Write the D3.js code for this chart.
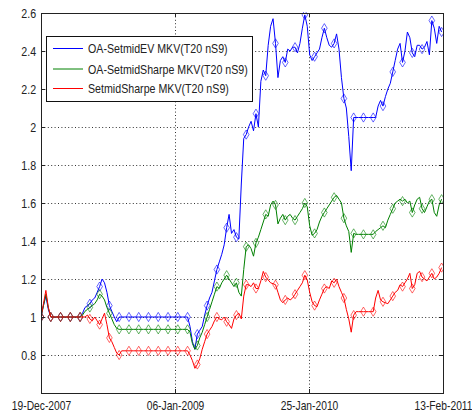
<!DOCTYPE html>
<html>
<head>
<meta charset="utf-8">
<script src="https://cdn.jsdelivr.net/npm/d3@7"></script>
<style>
body { margin: 0; background: #fff; }
text { font-family: "Liberation Sans", Arial, sans-serif; fill: #222; }
</style>
</head>
<body>
<div id="app"></div>
<script>
// data, one value per week from 19-Dec-2007
const startDay = "2007-12-19";
const endDay = "2011-02-13";
const xTickDays = ["2007-12-19", "2009-01-06", "2010-01-25", "2011-02-13"];
const xTickLabels = ["19-Dec-2007", "06-Jan-2009", "25-Jan-2010", "13-Feb-2011"];
const yTicks = [0.8, 1, 1.2, 1.4, 1.6, 1.8, 2, 2.2, 2.4, 2.6];
const seriesNames = ["OA-SetmidEV MKV(T20 nS9)", "OA-SetmidSharpe MKV(T20 nS9)", "SetmidSharpe MKV(T20 nS9)"];
const seriesColors = ["#0000ff", "#008000", "#ff0000"];

const evVals = [1.00,1.06,1.11,1.04,1.00,
  1.00,1.00,1.00,1.00,1.00,1.00,1.00,1.00,1.00,1.00,1.00,1.00,
  1.02,1.05,1.06,1.07,1.09,1.10,1.13,1.16,1.20,1.18,1.13,1.06,1.03,1.00,0.975,1.00,
  1.00,1.00,1.00,1.00,1.00,1.00,1.00,1.00,1.00,1.00,1.00,1.00,1.00,1.00,1.00,1.00,1.00,1.00,1.00,1.00,1.00,1.00,1.00,1.00,1.00,1.00,1.00,1.00,
  0.95,0.87,0.83,0.91,0.93,0.95,1.01,1.06,1.10,1.13,1.19,1.25,1.29,1.33,1.38,1.47,1.54,1.44,1.46,1.42,1.41,
  1.70,1.94,1.96,2.00,2.03,1.98,2.07,2.00,2.24,2.30,2.27,2.43,2.53,2.57,2.44,2.26,2.35,2.37,2.34,
  2.41,2.40,2.42,2.42,2.39,2.44,2.52,2.59,2.53,2.38,2.35,2.37,2.39,2.41,2.47,2.52,2.47,2.43,2.42,2.44,2.49,2.41,2.26,2.15,2.10,1.95,1.77,2.05,
  2.05,2.05,2.05,2.05,2.05,2.05,2.05,2.05,2.05,
  2.11,2.14,2.11,2.16,2.20,2.23,2.29,2.35,2.41,2.44,2.34,2.40,2.50,2.47,2.39,2.37,2.43,2.43,2.41,2.42,2.45,2.38,2.56,2.52,2.44,2.53,2.50];

const oaSharpeVals = [1.00,1.06,1.12,1.05,1.00,
  1.00,1.00,1.00,1.00,1.00,1.00,1.00,1.00,1.00,1.00,1.00,1.00,
  1.01,1.03,1.04,1.05,1.06,1.07,1.09,1.12,1.11,1.09,1.05,1.02,0.99,0.96,0.94,
  0.935,0.935,0.935,0.935,0.935,0.935,0.935,0.935,0.935,0.935,0.935,0.935,0.935,0.935,0.935,0.935,0.935,0.935,0.935,0.935,0.935,0.935,0.935,0.935,0.935,0.935,0.935,0.935,0.935,
  0.92,0.86,0.83,0.85,0.89,0.92,0.96,1.00,1.04,1.08,1.12,1.16,1.15,1.18,1.20,1.22,1.20,1.18,1.16,1.18,1.13,
  1.11,1.25,1.37,1.38,1.36,1.32,1.39,1.42,1.46,1.50,1.54,1.53,1.59,1.61,1.59,1.49,1.52,1.54,1.51,
  1.53,1.54,1.52,1.51,1.53,1.55,1.57,1.60,1.58,1.48,1.43,1.44,1.46,1.50,1.53,1.55,1.57,1.59,1.61,1.63,1.64,1.62,1.60,1.52,1.48,1.45,1.34,1.44,
  1.435,1.435,1.435,1.435,1.435,1.435,1.435,1.435,
  1.45,1.46,1.47,1.48,1.47,1.51,1.54,1.57,1.60,1.61,1.62,1.61,1.62,1.60,1.61,1.55,1.59,1.62,1.63,1.57,1.55,1.58,1.61,1.62,1.55,1.53,1.59,1.62];

const sharpeVals = [1.00,1.07,1.14,1.05,1.00,
  1.00,1.00,1.00,1.00,1.00,1.00,1.00,1.00,1.00,1.00,1.00,1.00,1.00,
  1.00,1.01,0.99,0.98,1.00,0.98,0.96,0.99,1.02,0.96,0.89,0.87,0.84,0.81,0.80,
  0.822,0.822,0.822,0.822,0.822,0.822,0.822,0.822,0.822,0.822,0.822,0.822,0.822,0.822,0.822,0.822,0.822,0.822,0.822,0.822,0.822,0.822,0.822,0.822,0.822,0.822,0.822,0.822,
  0.80,0.77,0.73,0.75,0.78,0.83,0.87,0.91,0.93,0.95,0.98,1.00,0.99,0.985,1.00,0.975,0.96,0.94,0.99,1.01,1.02,0.99,
  1.11,1.17,1.17,1.16,1.18,1.15,1.15,1.19,1.24,1.21,1.195,1.18,1.175,1.17,1.13,1.09,1.075,1.09,1.10,1.09,1.10,1.12,1.14,1.16,1.18,1.22,1.195,1.13,1.08,1.06,1.055,1.09,1.12,1.15,1.16,1.15,1.19,1.18,1.20,1.16,1.13,1.10,1.04,0.99,0.92,1.01,
  1.028,1.028,1.028,1.028,1.028,1.028,1.028,1.028,
  1.10,1.14,1.09,1.08,1.075,1.07,1.09,1.11,1.13,1.14,1.17,1.16,1.18,1.20,1.23,1.15,1.17,1.23,1.24,1.21,1.20,1.19,1.21,1.23,1.20,1.21,1.23,1.26];

const allSeries = [evVals, oaSharpeVals, sharpeVals];

var w = 472, h = 417;
const padL = 41, padR = 443, padT = 13, padB = 393;
const squeeze = 0.82; // the reference text is horizontally narrow

const parseDay = d3.timeParse("%Y-%m-%d");
const t0 = parseDay(startDay);
const dates = evVals.map((v, i) => d3.timeDay.offset(t0, 7 * i));

const svg = d3.select("#app")
  .append("svg")
  .attr("width", w)
  .attr("height", h)
  .style("background-color", "#fff");

const xScale = d3.scaleTime()
  .domain([t0, parseDay(endDay)])
  .range([padL, padR]);

const yScale = d3.scaleLinear()
  .domain([0.6, 2.6])
  .range([padB, padT]);

svg.append("clipPath").attr("id", "plotclip")
  .append("rect")
  .attr("x", padL).attr("y", padT - 1)
  .attr("width", padR - padL).attr("height", padB - padT + 1);

// dotted grid
const grid = svg.append("g")
  .attr("stroke", "#333")
  .attr("stroke-width", 1)
  .attr("stroke-dasharray", "1,2.4");

grid.selectAll(".hg")
  .data(yTicks.filter(v => v < 2.6))
  .enter().append("line")
  .attr("x1", padL).attr("x2", padR)
  .attr("y1", d => Math.round(yScale(d)) + 0.5)
  .attr("y2", d => Math.round(yScale(d)) + 0.5);

grid.selectAll(".vg")
  .data(xTickDays.slice(1, 3))
  .enter().append("line")
  .attr("y1", padT).attr("y2", padB)
  .attr("x1", d => Math.round(xScale(parseDay(d))) + 0.5)
  .attr("x2", d => Math.round(xScale(parseDay(d))) + 0.5);

// lines and diamond markers
const line = d3.line()
  .x((d, i) => xScale(dates[i]))
  .y(d => yScale(d));

const diamond = "M0,-4.6L2.8,0L0,4.6L-2.8,0Z";

const plot = svg.append("g").attr("clip-path", "url(#plotclip)");

allSeries.forEach((vals, k) => {
  plot.append("path")
    .datum(vals)
    .attr("fill", "none")
    .attr("stroke", seriesColors[k])
    .attr("stroke-width", 1)
    .attr("d", line);

  plot.selectAll(".mk" + k)
    .data(vals.map((v, i) => [i, v]).filter(d => d[0] % 4 === 0))
    .enter().append("path")
    .attr("d", diamond)
    .attr("transform", d => "translate(" + xScale(dates[d[0]]) + "," + yScale(d[1]) + ")")
    .attr("fill", "none")
    .attr("stroke", seriesColors[k])
    .attr("stroke-opacity", 0.6)
    .attr("stroke-width", 1);
});

// axes with inward ticks
const xTickDates = xTickDays.map(parseDay);
const xAxis = d3.axisBottom(xScale).tickValues(xTickDates)
  .tickFormat((d, i) => xTickLabels[i]).tickSize(-4).tickPadding(8);
const xAxisTop = d3.axisTop(xScale).tickValues(xTickDates).tickFormat("").tickSize(-4);
const yAxis = d3.axisLeft(yScale).tickValues(yTicks)
  .tickFormat(d3.format("~g")).tickSize(-4).tickPadding(6);
const yAxisRight = d3.axisRight(yScale).tickValues(yTicks).tickFormat("").tickSize(-4);

svg.append("g").attr("id", "x-axis")
  .attr("transform", "translate(0," + padB + ")").call(xAxis);
svg.append("g").attr("transform", "translate(0," + padT + ")").call(xAxisTop);
svg.append("g").attr("id", "y-axis")
  .attr("transform", "translate(" + padL + ",0)").call(yAxis);
svg.append("g").attr("transform", "translate(" + padR + ",0)").call(yAxisRight);

svg.selectAll(".domain").remove();
svg.selectAll(".tick line").attr("stroke", "#222");
svg.selectAll(".tick text")
  .style("font-size", "13px")
  .attr("fill", "#222")
  .attr("transform", "scale(" + squeeze + ",1)");
svg.select("#x-axis").selectAll(".tick text")
  .attr("transform", "scale(0.79,1)");

// frame
svg.append("rect")
  .attr("x", padL + 0.5).attr("y", padT + 0.5)
  .attr("width", padR - padL).attr("height", padB - padT)
  .attr("fill", "none")
  .attr("stroke", "#222")
  .attr("stroke-width", 1);

// legend
const legend = svg.append("g");
legend.append("rect")
  .attr("x", 46.5).attr("y", 36.5)
  .attr("width", 206).attr("height", 65)
  .attr("fill", "#fff")
  .attr("stroke", "#111");

const rowY = [48.5, 69, 88.5];
seriesNames.forEach((name, k) => {
  legend.append("line")
    .attr("x1", 53).attr("x2", 83)
    .attr("y1", rowY[k]).attr("y2", rowY[k])
    .attr("stroke", seriesColors[k])
    .attr("stroke-width", 1);
  legend.append("text")
    .attr("transform", "translate(88," + rowY[k] + ") scale(" + squeeze + ",1)")
    .attr("dy", "0.36em")
    .style("font-size", "13px")
    .text(name);
});
</script>
</body>
</html>
